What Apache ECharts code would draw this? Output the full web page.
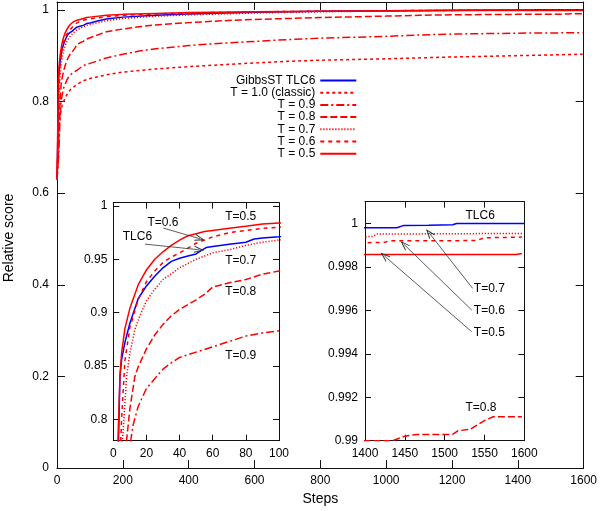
<!DOCTYPE html>
<html><head><meta charset="utf-8">
<script src="https://cdn.jsdelivr.net/npm/echarts@6/dist/echarts.min.js"></script>
<style>html,body{margin:0;padding:0;background:#fff}#c{width:600px;height:511px}</style>
</head><body><div id="c"></div>
<script>
// ---- data: [step, relative score] ----
const tlc6 = [[0,0.63],[1,0.66],[2,0.70],[3,0.77],[4,0.84],[5,0.856],[7,0.872],[10,0.89],[15,0.913],[20,0.925],[25,0.934],[30,0.942],[35,0.948],[40,0.951],[45,0.953],[50,0.955],[53,0.958],[56,0.961],[60,0.962],[70,0.964],[80,0.966],[85,0.969],[90,0.970],[100,0.971],[120,0.975],[150,0.980],[200,0.984],[300,0.988],[400,0.991],[600,0.9945],[800,0.9967],[1000,0.9981],[1200,0.9991],[1350,0.99970],[1400,0.99980],[1440,0.99980],[1448,0.99990],[1480,0.99992],[1510,0.99994],[1515,1.0],[1600,1.0]];
const t10 = [[0,0.63],[3,0.68],[6,0.74],[10,0.77],[15,0.79],[20,0.80],[30,0.815],[40,0.825],[60,0.837],[80,0.845],[100,0.85],[150,0.858],[200,0.864],[300,0.871],[400,0.876],[500,0.880],[600,0.884],[700,0.8875],[800,0.890],[1000,0.893],[1100,0.895],[1200,0.897],[1400,0.900],[1597,0.903]];
const t09 = [[0,0.63],[5,0.68],[10,0.775],[12,0.795],[15,0.812],[20,0.829],[25,0.838],[30,0.847],[35,0.853],[40,0.858],[50,0.863],[60,0.868],[70,0.873],[80,0.878],[90,0.881],[100,0.883],[150,0.895],[200,0.903],[250,0.910],[300,0.915],[400,0.922],[500,0.927],[600,0.931],[700,0.935],[800,0.938],[1000,0.942],[1100,0.945],[1200,0.947],[1400,0.949],[1597,0.950]];
const t08 = [[0,0.63],[4,0.68],[7,0.76],[8,0.78],[10,0.81],[13,0.84],[15,0.849],[20,0.866],[25,0.879],[30,0.889],[35,0.897],[40,0.903],[50,0.912],[55,0.917],[60,0.924],[70,0.928],[80,0.931],[90,0.936],[100,0.939],[150,0.952],[200,0.958],[250,0.963],[300,0.967],[400,0.972],[500,0.976],[600,0.979],[700,0.981],[800,0.983],[1000,0.9862],[1100,0.9880],[1200,0.9890],[1300,0.98965],[1400,0.99000],[1435,0.99000],[1450,0.99021],[1465,0.99029],[1510,0.99029],[1517,0.99046],[1532,0.99052],[1551,0.99095],[1561,0.99110],[1597,0.99110]];
const t07 = [[0,0.63],[3,0.70],[5,0.77],[6,0.79],[8,0.84],[10,0.862],[13,0.884],[16,0.897],[20,0.911],[25,0.922],[30,0.931],[40,0.942],[50,0.950],[60,0.956],[70,0.959],[80,0.963],[90,0.966],[100,0.968],[150,0.976],[200,0.981],[300,0.986],[400,0.989],[600,0.993],[800,0.9957],[1000,0.9974],[1200,0.9986],[1350,0.99925],[1400,0.99939],[1410,0.99940],[1415,0.99951],[1597,0.99954]];
const t06 = [[0,0.63],[2,0.68],[4,0.76],[5,0.80],[7,0.855],[10,0.886],[15,0.912],[20,0.929],[25,0.939],[30,0.947],[35,0.952],[40,0.956],[50,0.965],[60,0.971],[70,0.975],[80,0.977],[90,0.979],[100,0.980],[150,0.985],[200,0.988],[300,0.991],[400,0.993],[600,0.9955],[800,0.9969],[1000,0.9980],[1200,0.9987],[1350,0.99905],[1400,0.99911],[1425,0.99913],[1430,0.99920],[1540,0.99921],[1550,0.99934],[1597,0.99937]];
const t05 = [[0,0.64],[1,0.68],[2,0.73],[3,0.79],[4,0.84],[5,0.862],[7,0.885],[10,0.904],[15,0.926],[20,0.94],[25,0.95],[30,0.957],[35,0.963],[40,0.968],[45,0.972],[50,0.974],[55,0.976],[60,0.977],[70,0.979],[80,0.981],[90,0.983],[100,0.984],[150,0.988],[200,0.990],[300,0.992],[400,0.994],[600,0.9955],[800,0.9967],[1000,0.9976],[1200,0.9982],[1350,0.99853],[1400,0.99857],[1590,0.99857],[1597,0.99862]];

const seriesNames = ['GibbsST TLC6','T = 1.0 (classic)','T = 0.9','T = 0.8','T = 0.7','T = 0.6','T = 0.5'];
const seriesData = [tlc6, t10, t09, t08, t07, t06, t05];

// tick values
const mainXTicks = [0,200,400,600,800,1000,1200,1400,1600];
const mainYTicks = [0,0.2,0.4,0.6,0.8,1];
const leftXTicks = [0,20,40,60,80,100];
const leftYTicks = [0.8,0.85,0.9,0.95,1];
const rightXTicks = [1400,1450,1500,1550,1600];
const rightYTicks = [0.99,0.992,0.994,0.996,0.998,1];

// annotations (data coordinates): [text, x, y]
const leftLabels = [['T=0.5',67.2,0.9900],['T=0.6',20.3,0.9844],['TLC6',5.4,0.9707],['T=0.7',67.2,0.9486],['T=0.8',67.2,0.9199],['T=0.9',67.2,0.8601]];
const leftArrows = [[[30.2,0.9792],[52.3,0.9692]],[[19.1,0.9642],[51.9,0.9589]]];
const rightLabels = [['TLC6',1525.5,1.000336],['T=0.7',1536,0.996978],['T=0.6',1536,0.99598],['T=0.5',1536,0.994968],['T=0.8',1525.5,0.991536]];
const rightArrows = [[[1535.2,0.99701],[1480.4,0.999568]],[[1534,0.996012],[1449,0.999034]],[[1534,0.995014],[1424.2,0.998510]]];

// ---- styles ----
const FONT = 'Liberation Sans, Arial, Helvetica, sans-serif';
const styleOf = {
  'GibbsST TLC6': {color:'#0000ff', type:'solid'},
  'T = 1.0 (classic)': {color:'#ff0000', type:[3,3]},
  'T = 0.9': {color:'#ff0000', type:[8,3,2,3]},
  'T = 0.8': {color:'#ff0000', type:[7,3]},
  'T = 0.7': {color:'#ff0000', type:[1.2,1.8]},
  'T = 0.6': {color:'#ff0000', type:[4,4]},
  'T = 0.5': {color:'#ff0000', type:'solid'}
};
const inLeft = {'GibbsST TLC6':true,'T = 0.9':true,'T = 0.8':true,'T = 0.7':true,'T = 0.6':true,'T = 0.5':true};
const inRight = {'GibbsST TLC6':true,'T = 0.8':true,'T = 0.7':true,'T = 0.6':true,'T = 0.5':true};

function fmt(v){ return String(+(+v).toFixed(6)); }

function axis(grid, min, max, ticks, pos, showLabel, tickLen, labelMargin){
  return {
    type:'value', gridIndex:grid, min:min, max:max, position:pos,
    axisLine:{show:true, onZero:false, lineStyle:{color:'#111', width:1}},
    axisTick:{show:true, inside:true, length:tickLen, customValues:ticks, lineStyle:{color:'#111', width:1}},
    axisLabel:{show:showLabel, customValues:ticks, margin:labelMargin, formatter:fmt, color:'#000', fontSize:12, fontFamily:FONT},
    splitLine:{show:false}
  };
}

const xAxes = [
  axis(0,0,1600,mainXTicks,'bottom',true,8,7),
  axis(0,0,1600,mainXTicks,'top',false,8,7),
  axis(1,0,100,leftXTicks,'bottom',true,6,7),
  axis(1,0,100,leftXTicks,'top',false,6,7),
  axis(2,1400,1600,rightXTicks,'bottom',true,6,7),
  axis(2,1400,1600,rightXTicks,'top',false,6,7)
];
xAxes[0].name = 'Steps';
xAxes[0].nameLocation = 'middle';
xAxes[0].nameGap = 19;
xAxes[0].nameTextStyle = {fontSize:14, color:'#000', fontFamily:FONT, verticalAlign:'top'};

const yAxes = [
  axis(0,0,1.017,mainYTicks,'left',true,8,8),
  axis(0,0,1.017,mainYTicks,'right',false,8,8),
  axis(1,0.78,1.003,leftYTicks,'left',true,6,6),
  axis(1,0.78,1.003,leftYTicks,'right',false,6,6),
  axis(2,0.99,1.001,rightYTicks,'left',true,6,7),
  axis(2,0.99,1.001,rightYTicks,'right',false,6,7)
];

const chevron = 'path://M0,10 L5,0 L10,10 L8.6,10 L5,3 L1.4,10 Z';

function labelPoints(list){
  return {
    silent:true, symbol:'circle', symbolSize:1, itemStyle:{color:'rgba(0,0,0,0)'},
    label:{show:true, position:'right', distance:0, formatter:'{b}', color:'#000', fontSize:12, fontFamily:FONT},
    data:list.map(l => ({name:l[0], coord:[l[1], l[2]]}))
  };
}
function arrowLines(list){
  return {
    silent:true, symbol:['none', chevron], symbolSize:[7,10],
    lineStyle:{color:'#333', width:0.8, type:'solid'},
    label:{show:false},
    data:list.map(a => [{coord:a[0]},{coord:a[1]}])
  };
}

const series = [];
function addSeries(name, data, xi, yi){
  const st = styleOf[name];
  const s = {
    name:name, type:'line', data:data, xAxisIndex:xi, yAxisIndex:yi,
    symbol:'none', showSymbol:false, clip:true, smooth:false,
    lineStyle:{color:st.color, width:1.5, type:st.type},
    itemStyle:{color:st.color},
    emphasis:{disabled:true}
  };
  series.push(s);
  return s;
}
seriesNames.forEach((n,i) => addSeries(n, seriesData[i], 0, 0));
let firstLeft = null, firstRight = null;
seriesNames.forEach((n,i) => { if (inLeft[n]) { const s = addSeries(n, seriesData[i], 2, 2); if(!firstLeft) firstLeft = s; } });
seriesNames.forEach((n,i) => { if (inRight[n]) { const s = addSeries(n, seriesData[i], 4, 4); if(!firstRight) firstRight = s; } });
firstLeft.markPoint = labelPoints(leftLabels);
firstLeft.markLine = arrowLines(leftArrows);
firstRight.markPoint = labelPoints(rightLabels);
firstRight.markLine = arrowLines(rightArrows);

const option = {
  animation:false,
  backgroundColor:'#fff',
  textStyle:{fontFamily:FONT},
  grid:[
    {left:57, right:12, top:2, bottom:37, containLabel:false},
    {left:113.3, top:202.7, width:165.7, height:238, show:true, backgroundColor:'#fff', borderWidth:0},
    {left:365, top:201.7, width:159.3, height:239, show:true, backgroundColor:'#fff', borderWidth:0}
  ],
  legend:{
    orient:'vertical', align:'right', right:242.7, top:74.5,
    itemWidth:36, itemHeight:12, itemGap:0.2, padding:0,
    data:seriesNames, selectedMode:false,
    itemStyle:{opacity:0},
    textStyle:{fontSize:12, color:'#000', fontFamily:FONT, lineHeight:12}
  },
  graphic:[{
    type:'text', x:9, y:238, rotation:Math.PI/2, silent:true,
    style:{text:'Relative score', font:'14px ' + FONT, fill:'#000', align:'center', verticalAlign:'middle'}
  }],
  xAxis:xAxes,
  yAxis:yAxes,
  series:series
};
const chart = echarts.init(document.getElementById('c'), null, {renderer:'canvas'});
chart.setOption(option);
</script>
</body></html>
